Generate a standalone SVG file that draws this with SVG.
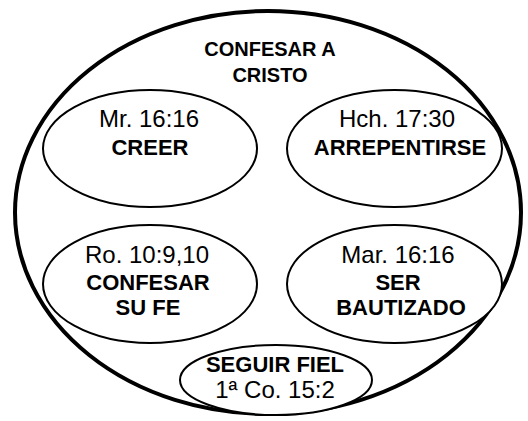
<svg xmlns="http://www.w3.org/2000/svg" width="528" height="421" viewBox="0 0 528 421">
<style>
.outer{fill:#fff;stroke:#000;stroke-width:4}
.node{fill:#fff;stroke:#000;stroke-width:2}
.b{font-family:"Liberation Sans",Arial,sans-serif;font-weight:bold;font-size:22px;text-anchor:middle;fill:#000}
.r{font-family:"Liberation Sans",Arial,sans-serif;font-size:24px;text-anchor:middle;fill:#000}
.t{font-family:"Liberation Sans",Arial,sans-serif;font-weight:bold;font-size:20px;text-anchor:middle;fill:#000}
</style>
<rect width="528" height="421" fill="#fff"/>
<g id="outer">
<ellipse class="outer" cx="268" cy="212.5" rx="253" ry="201.5"/>
<text class="t" x="270" y="56">CONFESAR A</text>
<text class="t" x="270" y="82">CRISTO</text>
</g>
<g id="connectors"></g>
<g id="creer">
<ellipse class="node" cx="150" cy="148.5" rx="107" ry="58.5"/>
<text class="r" x="149" y="127">Mr. 16:16</text>
<text class="b" x="150" y="155">CREER</text>
</g>
<g id="arrepentirse">
<ellipse class="node" cx="394.5" cy="148.5" rx="107.5" ry="58.5"/>
<text class="r" x="397" y="127">Hch. 17:30</text>
<text class="b" x="400" y="155">ARREPENTIRSE</text>
</g>
<g id="confesar">
<ellipse class="node" cx="150" cy="284" rx="107" ry="59"/>
<text class="r" x="147" y="263">Ro. 10:9,10</text>
<text class="b" x="148" y="290">CONFESAR</text>
<text class="b" x="148" y="315">SU FE</text>
</g>
<g id="bautizado">
<ellipse class="node" cx="394.5" cy="284" rx="107.5" ry="59"/>
<text class="r" x="398" y="263">Mar. 16:16</text>
<text class="b" x="398" y="290">SER</text>
<text class="b" x="401" y="315">BAUTIZADO</text>
</g>
<g id="seguir">
<ellipse class="node" cx="276" cy="380" rx="96" ry="35"/>
<text class="b" x="275" y="372">SEGUIR FIEL</text>
<text class="r" x="275" y="398">1ª Co. 15:2</text>
</g>
</svg>
